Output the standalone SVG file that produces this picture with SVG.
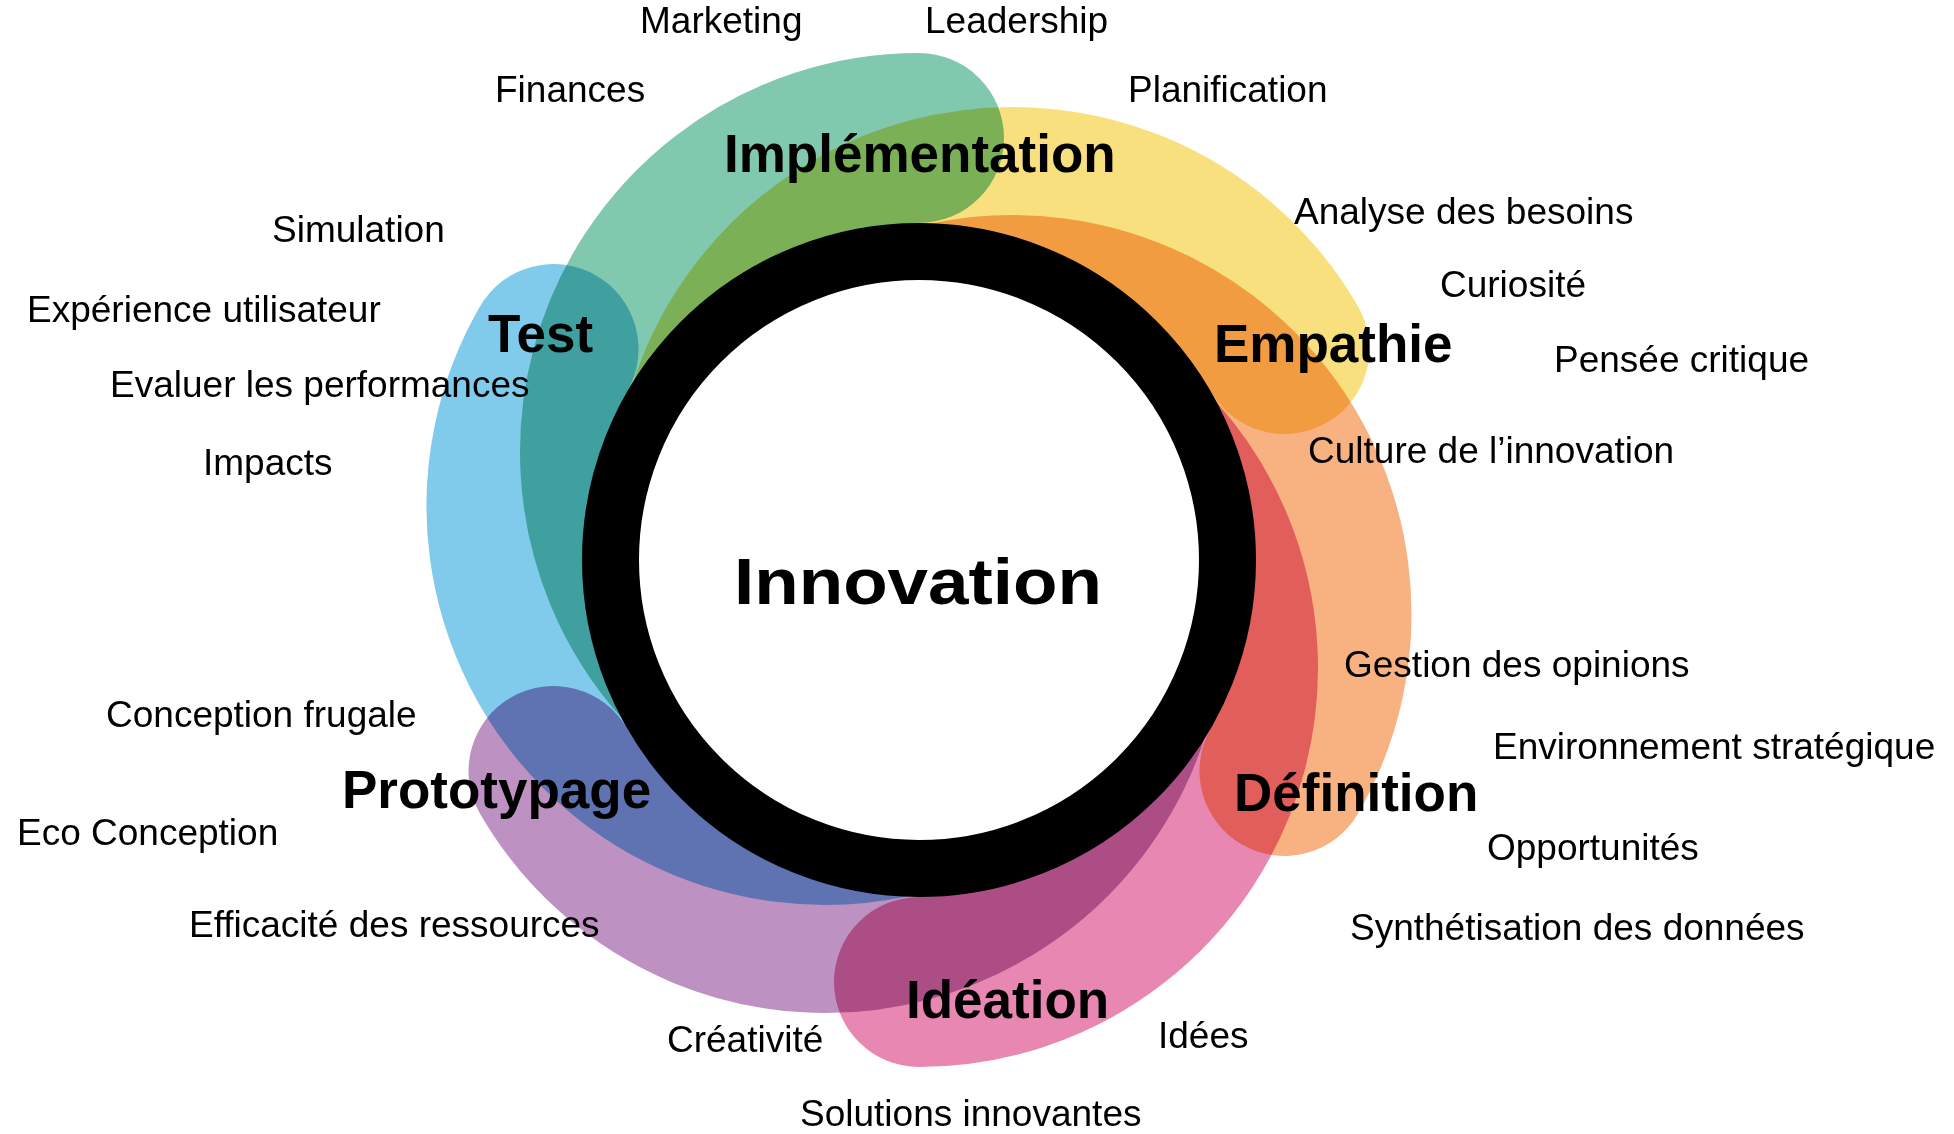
<svg xmlns="http://www.w3.org/2000/svg" width="1954" height="1134" viewBox="0 0 1954 1134">
<style>
.band{fill:none;stroke-width:170;stroke-linecap:round;mix-blend-mode:multiply}
.lbl{font-family:"Liberation Sans",Arial,sans-serif;font-size:37px;fill:#000}
.stage{font-family:"Liberation Sans",Arial,sans-serif;font-size:53px;font-weight:bold;fill:#000}
.core{font-family:"Liberation Sans",Arial,sans-serif;font-size:65px;font-weight:bold;fill:#000}
</style>
<defs>
<path id="arc" d="M919,138 A314,314 0 0 0 762,723.93"/>
</defs>
<rect x="0" y="0" width="1954" height="1134" fill="#ffffff"/>
<g id="bands">
<use id="band-implementation" href="#arc" class="band" stroke="#80c9ae"/>
<use id="band-empathie" href="#arc" class="band" stroke="#f8e07e" transform="rotate(60 919 560)"/>
<use id="band-definition" href="#arc" class="band" stroke="#f8b282" transform="rotate(120 919 560)"/>
<use id="band-ideation" href="#arc" class="band" stroke="#e887b1" transform="rotate(180 919 560)"/>
<use id="band-prototypage" href="#arc" class="band" stroke="#bd91c1" transform="rotate(240 919 560)"/>
<use id="band-test" href="#arc" class="band" stroke="#80cbeb" transform="rotate(300 919 560)"/>
</g>
<g id="node-innovation">
<circle cx="919" cy="560" r="308.5" fill="#ffffff" stroke="#000000" stroke-width="57"/>
<text class="core" x="734" y="604" textLength="368" lengthAdjust="spacingAndGlyphs">Innovation</text>
</g>
<g id="node-implementation">
<text class="stage" x="724" y="172">Implémentation</text>
<text class="lbl" x="640" y="33">Marketing</text>
<text class="lbl" x="925" y="33">Leadership</text>
<text class="lbl" x="495" y="102">Finances</text>
<text class="lbl" x="1128" y="102">Planification</text>
</g>
<g id="node-empathie">
<text class="stage" x="1214" y="362">Empathie</text>
<text class="lbl" x="1294" y="224">Analyse des besoins</text>
<text class="lbl" x="1440" y="297">Curiosité</text>
<text class="lbl" x="1554" y="372">Pensée critique</text>
<text class="lbl" x="1308" y="463">Culture de l’innovation</text>
</g>
<g id="node-definition">
<text class="stage" x="1234" y="811">Définition</text>
<text class="lbl" x="1344" y="677">Gestion des opinions</text>
<text class="lbl" x="1493" y="759">Environnement stratégique</text>
<text class="lbl" x="1487" y="860">Opportunités</text>
<text class="lbl" x="1350" y="940">Synthétisation des données</text>
</g>
<g id="node-ideation">
<text class="stage" x="906" y="1018">Idéation</text>
<text class="lbl" x="667" y="1052">Créativité</text>
<text class="lbl" x="1158" y="1048">Idées</text>
<text class="lbl" x="800" y="1126">Solutions innovantes</text>
</g>
<g id="node-prototypage">
<text class="stage" x="342" y="808">Prototypage</text>
<text class="lbl" x="106" y="727">Conception frugale</text>
<text class="lbl" x="17" y="845">Eco Conception</text>
<text class="lbl" x="189" y="937">Efficacité des ressources</text>
</g>
<g id="node-test">
<text class="stage" x="488" y="352">Test</text>
<text class="lbl" x="272" y="242">Simulation</text>
<text class="lbl" x="27" y="322">Expérience utilisateur</text>
<text class="lbl" x="110" y="397">Evaluer les performances</text>
<text class="lbl" x="203" y="475">Impacts</text>
</g>
</svg>
